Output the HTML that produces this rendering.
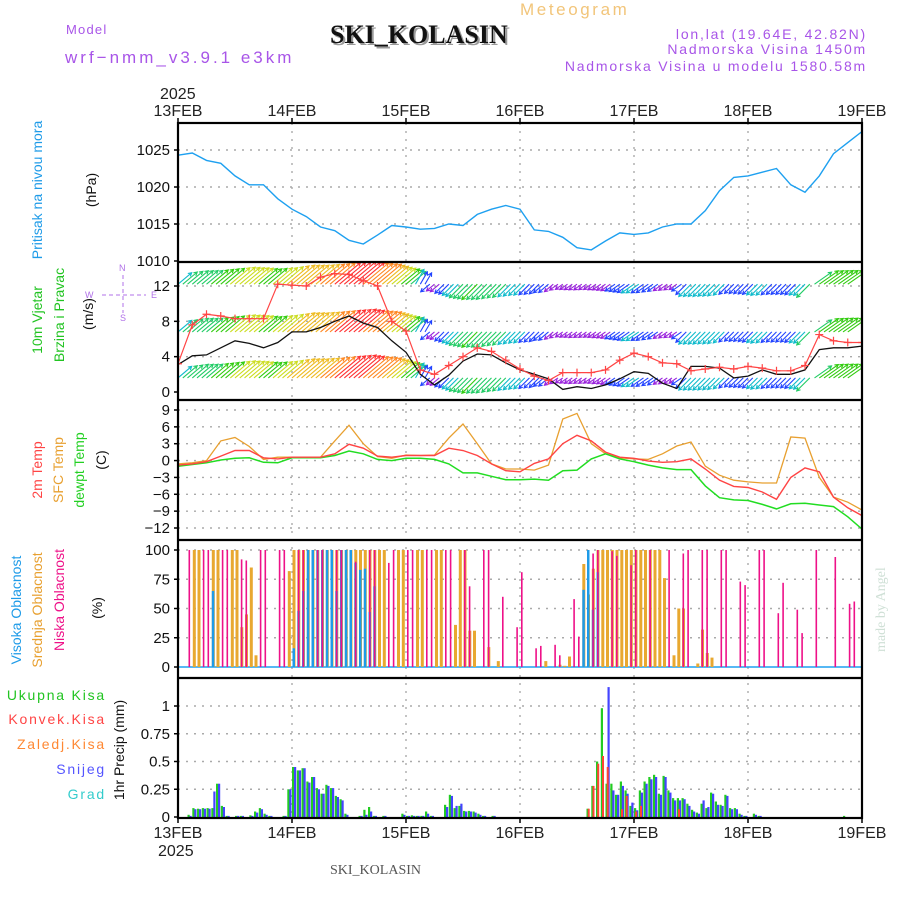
<!DOCTYPE html>
<html><head><meta charset="utf-8">
<style>
html,body{margin:0;padding:0;background:#fff;}
svg{display:block;font-family:"Liberation Sans",sans-serif;}
</style></head>
<body>
<svg id="chart" width="900" height="900" viewBox="0 0 900 900" xmlns="http://www.w3.org/2000/svg">
<rect x="0" y="0" width="900" height="900" fill="#fff"/>
<text x="520" y="15" font-size="17" fill="#f2c57a" letter-spacing="2.6">Meteogram</text>
<text x="66" y="34" font-size="13" fill="#a855e8" letter-spacing="1.2">Model</text>
<text x="65" y="63" font-size="17" fill="#a855e8" letter-spacing="3">wrf−nmm_v3.9.1 e3km</text>
<text x="332" y="45" font-size="26" font-weight="bold" font-family="Liberation Serif,serif" fill="#9a9a9a">SKI_KOLASIN</text>
<text x="330" y="43" font-size="26" font-weight="bold" font-family="Liberation Serif,serif" fill="#111">SKI_KOLASIN</text>
<text x="867" y="39" font-size="14" fill="#a855e8" text-anchor="end" letter-spacing="1.8">lon,lat (19.64E, 42.82N)</text>
<text x="867" y="54" font-size="14" fill="#a855e8" text-anchor="end" letter-spacing="1.8">Nadmorska Visina 1450m</text>
<text x="867" y="71" font-size="14" fill="#a855e8" text-anchor="end" letter-spacing="1.8">Nadmorska Visina u modelu 1580.58m</text>
<text x="160" y="99" font-size="16" fill="#222">2025</text>
<text x="158" y="856" font-size="16" fill="#222">2025</text>
<text x="330" y="874" font-size="14" font-family="Liberation Serif,serif" fill="#555">SKI_KOLASIN</text>
<text transform="translate(885,652) rotate(-90)" font-size="14" font-family="Liberation Serif,serif" fill="#cfe0d6">made by Angel</text>

<text transform="translate(42,190) rotate(-90)" font-size="14" fill="#1e9be8" text-anchor="middle">Pritisak na nivou mora</text>
<text transform="translate(96,190) rotate(-90)" font-size="14" fill="#111" text-anchor="middle">(hPa)</text>
<text transform="translate(42,320) rotate(-90)" font-size="14" fill="#22c422" text-anchor="middle">10m Vjetar</text>
<text transform="translate(64,315) rotate(-90)" font-size="14" fill="#22c422" text-anchor="middle">Brzina i Pravac</text>
<text transform="translate(93,314) rotate(-90)" font-size="14" fill="#111" text-anchor="middle">(m/s)</text>
<g fill="#b070e8" font-size="9" stroke="none">
<text x="119" y="271">N</text><text x="120" y="321">S</text><text x="85" y="298">W</text><text x="151" y="298">E</text>
<line x1="123" y1="275" x2="123" y2="313" stroke="#b070e8" stroke-dasharray="4,3"/>
<line x1="102" y1="295" x2="146" y2="295" stroke="#b070e8" stroke-dasharray="4,3"/>
</g>
<text transform="translate(42,470) rotate(-90)" font-size="14" fill="#ff4444" text-anchor="middle">2m Temp</text>
<text transform="translate(63,470) rotate(-90)" font-size="14" fill="#e8a030" text-anchor="middle">SFC Temp</text>
<text transform="translate(84,470) rotate(-90)" font-size="14" fill="#22d022" text-anchor="middle">dewpt Temp</text>
<text transform="translate(106,460) rotate(-90)" font-size="14" fill="#111" text-anchor="middle">(C)</text>
<text transform="translate(21,610) rotate(-90)" font-size="14" fill="#1e9be8" text-anchor="middle">Visoka Oblacnost</text>
<text transform="translate(42,610) rotate(-90)" font-size="14" fill="#e8a030" text-anchor="middle">Srednja Oblacnost</text>
<text transform="translate(64,600) rotate(-90)" font-size="14" fill="#ee1188" text-anchor="middle">Niska Oblacnost</text>
<text transform="translate(102,608) rotate(-90)" font-size="14" fill="#111" text-anchor="middle">(%)</text>
<g font-size="14" text-anchor="end" letter-spacing="1.8">
<text x="106" y="700" fill="#22c422">Ukupna  Kisa</text>
<text x="106" y="724" fill="#ff4444">Konvek.Kisa</text>
<text x="106" y="749" fill="#ff8833">Zaledj.Kisa</text>
<text x="106" y="774" fill="#5555ff">Snijeg</text>
<text x="106" y="799" fill="#33cccc">Grad</text>
</g>
<text transform="translate(124,750) rotate(-90)" font-size="14" fill="#111" text-anchor="middle">1hr Precip (mm)</text>
<g id="plot"></g>
</svg>
<script>
// ---------------- data ----------------
const dayLabels = ["13FEB","14FEB","15FEB","16FEB","17FEB","18FEB","19FEB"];
const hours3 = [0,3,6,9,12,15,18,21,24,27,30,33,36,39,42,45,48,51,54,57,60,63,66,69,72,75,78,81,84,87,90,93,96,99,102,105,108,111,114,117,120,123,126,129,132,135,138,141,144];
const pressure = [1024.3,1024.6,1023.6,1023.2,1021.5,1020.3,1020.3,1018.4,1017,1016,1014.6,1014.1,1012.8,1012.3,1013.5,1014.8,1014.6,1014.3,1014.4,1015,1014.8,1016.3,1017,1017.5,1017,1014.2,1014,1013.2,1011.8,1011.5,1012.7,1013.8,1013.6,1013.8,1014.6,1015,1015,1016.8,1019.5,1021.3,1021.5,1022,1022.5,1020.3,1019.3,1021.5,1024.5,1026,1027.5];
const windSpeed = [3.1,4.1,4.2,5,5.8,5.5,5,5.6,6.8,6.8,7.3,8,8.6,7.8,7.3,5.8,4.5,2,0.8,1.9,3.5,4.3,4.2,3.3,2.5,2,1.5,0.3,0.6,0.4,0.8,1.5,2.3,2.1,1,0.4,2.9,2.9,2.7,1.6,1.8,2.5,2,2,2.5,4.8,5,5,5.2];
const windGust = [3.2,7.6,8.8,8.6,8.3,8.3,8.3,12.2,12.1,12,13,13.4,13.3,12.6,12,8,6.9,2.5,2,3,4,5,4.6,3.6,2.6,1.8,1.3,2.2,2.2,2.2,2.5,3.6,4.4,4,3.3,3.2,2.4,2.6,2.8,2.6,2.9,2.7,2.4,2.4,3,6.5,5.8,5.6,5.6];
const windDir = [40,40,40,40,40,40,40,40,40,40,40,40,40,40,40,40,40,60,220,225,225,225,225,225,225,225,220,215,215,215,215,215,215,215,215,215,225,225,225,225,225,225,225,225,225,35,35,35,35];
const tempSfc = [-0.6,-0.4,0,3.5,4.1,2.5,0.2,0.6,0.6,0.6,0.6,3.5,6.3,3,0.7,0.4,1,0.9,1,4,6.5,3,-0.6,-1.5,-1.5,-1.7,-0.8,7.4,8.4,3,1.2,0.5,0.3,0.2,1.2,2.6,3.3,-1,-2.6,-3.5,-3.8,-4,-4,4.2,4,-3,-6.5,-7.4,-8.8];
const temp2m = [-0.8,-0.6,-0.2,0.8,1.8,1.8,0.5,0.3,0.6,0.6,0.6,1.2,2.9,2.2,0.8,0.6,0.9,0.9,0.9,2.2,1.8,0.9,-0.6,-1.8,-2,-0.5,0.3,3,4.5,3.5,1.5,0.6,0.4,-0.1,-0.3,-0.2,0.3,-1.5,-3.5,-4.6,-4.8,-5.6,-6.9,-3,-1.3,-2,-6.5,-8.4,-9.8];
const tempDew = [-1,-0.7,-0.4,0.1,0.4,0.5,-0.3,-0.4,0.5,0.5,0.5,0.9,1.7,1.2,0.2,0,0.4,0.4,0.2,-0.6,-2.2,-2.2,-2.8,-3.4,-3.4,-3.3,-3.5,-1.8,-1.7,0.3,1.2,0.3,-0.2,-0.8,-1.3,-1.6,-1.6,-4.5,-6.6,-7,-7.1,-7.8,-8.6,-7.7,-7.6,-7.9,-8.2,-10,-12.2];
const pressTicks = [1010,1015,1020,1025];
const windTicks = [0,4,8,12];
const tempTicks = [-12,-9,-6,-3,0,3,6,9];
const cloudTicks = [0,25,50,75,100];
const precipTicks = [0,0.25,0.5,0.75,1];
const precipTickLabels = ["0","0.25","0.5","0.75","1"];
const lowHours = [2,5,6,9,10,13,14,17,18,21,22,25,26,29,30,33,34,37,40,41,44,45,48,49,52,53,56,57,60,61,64,65,68,71,72,75,76,79,80,83,84,87,88,91,92,95,96,99,103,106,107,110,111,114,115,118,119,122,123,126,127,130,131,134,138,141,142];
const lowVals = [100,100,100,100,100,92,91,100,100,100,100,100,100,100,100,100,100,90,100,100,89,100,100,100,100,100,100,100,100,69,100,100,60,34,81,16,18,19,10,58,26,97,100,99,95,87,100,100,100,97,100,100,100,100,100,73,70,100,100,46,72,49,29,100,94,54,56];
const midHours = [3,4,7,8,11,12,13,14,15,16,23,24,25,26,27,28,29,30,31,32,33,34,35,36,37,38,39,40,41,42,43,46,47,50,51,54,55,58,59,60,61,62,65,67,77,80,81,82,85,86,87,88,89,90,91,92,93,94,95,96,97,98,99,100,101,102,104,105,106,109,110,111,112];
const midVals = [100,100,100,100,100,100,34,45,85,10,82,100,100,100,100,100,100,100,100,100,100,100,100,100,100,100,100,100,100,100,100,100,100,100,100,100,100,36,100,100,31,31,17,5,5,2,1,9,88,62,84,100,100,100,100,100,100,100,100,100,100,100,100,100,100,76,10,50,50,3,32,12,8];
const highHours = [7,24,25,26,27,28,29,30,31,32,33,34,35,36,37,38,39,40,41,85,86,87,88];
const highVals = [65,16,48,65,100,100,100,100,100,100,65,100,100,100,89,83,84,47,69,66,100,49,81];
const precipHours = [2,3,4,5,6,7,8,9,10,12,13,15,16,17,18,19,22,23,24,25,26,27,28,29,30,31,32,33,34,35,38,39,40,41,43,47,48,49,50,51,52,53,56,57,58,59,60,61,62,63,64,66,86,87,88,89,90,91,92,93,94,95,96,97,98,99,100,101,102,103,104,105,106,107,108,109,110,111,112,113,114,115,116,117,118,119,121,122,140];
const precipTotal = [0.02,0.08,0.075,0.08,0.08,0.08,0.3,0.1,0.01,0.01,0.01,0.015,0.05,0.08,0.03,0.01,0.01,0.25,0.45,0.42,0.44,0.32,0.36,0.26,0.21,0.29,0.26,0.19,0.16,0.03,0.01,0.065,0.09,0.01,0.01,0.03,0.01,0.015,0.01,0.01,0.05,0.01,0.11,0.2,0.08,0.1,0.055,0.055,0.05,0.03,0.01,0.01,0.075,0.28,0.5,0.98,0.3,0.3,0.2,0.32,0.24,0.1,0.08,0.24,0.32,0.36,0.38,0.21,0.37,0.24,0.17,0.17,0.17,0.12,0.065,0.04,0.12,0.08,0.22,0.14,0.11,0.2,0.08,0.08,0.03,0.01,0.03,0.01,0.01];
const precipSnow = [0.01,0.07,0.07,0.075,0.075,0.23,0.3,0.09,0.01,0.01,0.01,0.01,0.04,0.07,0.02,0.01,0.01,0.25,0.45,0.42,0.44,0.31,0.36,0.25,0.21,0.28,0.26,0.18,0.15,0.02,0.01,0.02,0.05,0.01,0.01,0.02,0.01,0.01,0.01,0.01,0.03,0.01,0.09,0.19,0.1,0.12,0.05,0.05,0.04,0.02,0.01,0.01,0,0,0,0,1.17,0.24,0.2,0.28,0.21,0.13,0.06,0.22,0.3,0.34,0.36,0.2,0.36,0.22,0.15,0.15,0.16,0.1,0.05,0.03,0.15,0.09,0.21,0.11,0.1,0.19,0.07,0.07,0.02,0.01,0.02,0.01,0];
const convHours = [86,87,88,89,90,93,94,96,97,105];
const convVals = [0.075,0.28,0.48,0.55,0.45,0.07,0.19,0.05,0.1,0.07];

// ---------------- layout ----------------
const NS = "http://www.w3.org/2000/svg";
const plot = document.getElementById("plot");
const X0 = 178, X1 = 862, HMAX = 144;
const xs = h => X0 + (X1 - X0) * h / HMAX;
function lin(d0, d1, p0, p1) { return v => p0 + (v - d0) * (p1 - p0) / (d1 - d0); }
const yP = lin(1010, 1025, 261, 150);
const yW = lin(0, 12, 392, 286);
const yT = lin(-12, 9, 528, 410);
const yC = lin(0, 100, 667, 550);
const yR = lin(0, 1, 817, 706);
const panels = [[123, 262], [262, 400], [400, 540], [540, 678], [678, 818]];

function mk(tag, attrs, parent) {
  const el = document.createElementNS(NS, tag);
  for (const k in attrs) el.setAttribute(k, attrs[k]);
  (parent || plot).appendChild(el);
  return el;
}

const defs = mk("defs", {});
panels.forEach((p, i) => {
  const cp = mk("clipPath", { id: "clip" + i }, defs);
  mk("rect", { x: X0, y: p[0], width: X1 - X0, height: p[1] - p[0] }, cp);
});

const grid = mk("g", { stroke: "#aaa", "stroke-width": 1.4, "stroke-dasharray": "2,6" });


for (let d = 1; d < 6; d++) {
  const gl = mk("line", { x1: xs(d * 24), x2: xs(d * 24), y1: 123, y2: 818 }, grid);
  
  
}
function hgrid(ticks, sc) {
  ticks.forEach(t => {
    const y = sc(t);
    const gl = mk("line", { x1: X0, x2: X1, y1: y, y2: y }, grid);
    
    
  });
}
hgrid([1015, 1020, 1025], yP);
hgrid([4, 8, 12], yW);
hgrid(tempTicks, yT);
hgrid([25, 50, 75, 100], yC);
hgrid([0.25, 0.5, 0.75, 1], yR);

function yLabels(ticks, sc, labels, name) {
  ticks.forEach((t, i) => {
    const tx = mk("text", { x: X0 - 8, y: sc(t) + 5, "font-size": 15, "text-anchor": "end", fill: "#111" });
    
    
    tx.textContent = labels ? labels[i] : String(t).replace("-", "\u2212");
    mk("line", { x1: X0 - 4, x2: X0, y1: sc(t), y2: sc(t), stroke: "#000", "stroke-width": 1.5 });
  });
}
yLabels(pressTicks, yP, null, 'pressure-tick-label');
yLabels(windTicks, yW, null, 'wind-tick-label');
yLabels(tempTicks, yT, null, 'temp-tick-label');
yLabels(cloudTicks, yC, null, 'cloud-tick-label');
yLabels(precipTicks, yR, precipTickLabels, 'precip-tick-label');

dayLabels.forEach((lab, i) => {
  const x = xs(i * 24);
  const t1 = mk("text", { x: x, y: 116, "font-size": 16, "text-anchor": "middle", fill: "#222" });
  
  
  t1.textContent = lab;
  const t2 = mk("text", { x: x, y: 838, "font-size": 16, "text-anchor": "middle", fill: "#222" });
  
  
  t2.textContent = lab;
  mk("line", { x1: x, x2: x, y1: 118, y2: 123, stroke: "#000", "stroke-width": 1.5 });
  mk("line", { x1: x, x2: x, y1: 818, y2: 823, stroke: "#000", "stroke-width": 1.5 });
});

function linePath(vals, sc, color, w, name, clip) {
  const d = vals.map((v, i) => (i ? "L" : "M") + xs(hours3[i]).toFixed(1) + "," + sc(v).toFixed(1)).join("");
  const p = mk("path", { d: d, fill: "none", stroke: color, "stroke-width": w, "clip-path": "url(#clip" + clip + ")" });
  
  
  return p;
}

linePath(pressure, yP, "#1ea0f0", 1.4, 'pressure-line', 0);

function windColor(s) {
  if (s < 1.2) return "#9922dd";
  if (s < 2.2) return "#2244ff";
  if (s < 3.2) return "#11bbcc";
  if (s < 4.3) return "#22cc66";
  if (s < 5.3) return "#33cc11";
  if (s < 6.3) return "#ccdd22";
  if (s < 7.2) return "#eebb22";
  if (s < 8) return "#ff8822";
  return "#ff3333";
}
function interp(arr, h) {
  const i = Math.min(Math.floor(h / 3), arr.length - 2), f = (h - i * 3) / 3;
  return arr[i] * (1 - f) + arr[i + 1] * f;
}
const windG = mk("g", { "clip-path": "url(#clip1)", "stroke-width": 1.1, fill: "none" });


const rowBase = [yW(12.2), yW(6.8), yW(1.6)];
rowBase.forEach(by => {
  for (let h = 0; h <= 141; h += 1) {
    const s = interp(windSpeed, h), dir = windDir[Math.round(h / 3)];
    const L = 8 + s * 3.2;
    const a = dir * Math.PI / 180;
    const x0 = xs(h), x1 = x0 + L * Math.cos(a), y1 = by - L * Math.sin(a);
    const c = windColor(s);
    const ar = mk("path", { d: `M${x0.toFixed(1)},${by.toFixed(1)}L${x1.toFixed(1)},${y1.toFixed(1)}M${(x1 - 4 * Math.cos(a - 0.5)).toFixed(1)},${(y1 + 4 * Math.sin(a - 0.5)).toFixed(1)}L${x1.toFixed(1)},${y1.toFixed(1)}L${(x1 - 4 * Math.cos(a + 0.5)).toFixed(1)},${(y1 + 4 * Math.sin(a + 0.5)).toFixed(1)}`, stroke: c }, windG);
    
    
  }
});
linePath(windSpeed, yW, "#111", 1.3, 'wind-speed-line', 1);
linePath(windGust, yW, "#ff4444", 1.2, 'wind-gust-line', 1);
const gustG = mk("g", { stroke: "#ff4444", "stroke-width": 1.2, "clip-path": "url(#clip1)" });


windGust.forEach((v, i) => {
  const x = xs(hours3[i]), y = yW(v);
  const m = mk("path", { d: `M${x - 4},${y}h8M${x},${y - 4}v8` }, gustG);
  
  
});

linePath(tempSfc, yT, "#e8a030", 1.3, 'sfc-temp-line', 2);
linePath(tempDew, yT, "#22dd22", 1.5, 'dewpoint-line', 2);
linePath(temp2m, yT, "#ff4444", 1.4, 'temp-2m-line', 2);

const cloudG = mk("g", { "clip-path": "url(#clip3)" });


mk("line", { x1: X0, x2: X1, y1: yC(0), y2: yC(0), stroke: "#1ea0f0", "stroke-width": 1.5 }, cloudG);
function bars(hrs, vals, sc, color, off, w, name, g) {
  hrs.forEach((h, i) => {
    const y = sc(vals[i]);
    const r = mk("rect", { x: (xs(h) + off).toFixed(1), y: y.toFixed(1), width: w, height: Math.max(0, sc(0) - y).toFixed(1), fill: color }, g);
    
    
  });
}
bars(midHours, midVals, yC, "#e8a830", 0.5, 3, 'mid-cloud-bar', cloudG);
bars(highHours, highVals, yC, "#1e9be8", 0.5, 2.5, 'high-cloud-bar', cloudG);
bars(lowHours, lowVals, yC, "#ee1188", 1, 1.6, 'low-cloud-bar', cloudG);

const precG = mk("g", { "clip-path": "url(#clip4)" });


bars(precipHours, precipTotal, yR, "#22cc22", 0, 2.2, 'total-precip-bar', precG);
bars(precipHours, precipSnow, yR, "#4444ff", 2, 2.2, 'snow-bar', precG);
bars(convHours, convVals, yR, "#ff4433", 1.2, 2, 'convective-bar', precG);

const fr = mk("g", { stroke: "#000", fill: "none" });


mk("rect", { x: X0, y: 123, width: X1 - X0, height: 818 - 123, "stroke-width": 2.2 }, fr);
[262, 400, 540, 678].forEach(y => mk("line", { x1: X0, x2: X1, y1: y, y2: y, "stroke-width": 2.2 }, fr));
</script>
</body></html>
